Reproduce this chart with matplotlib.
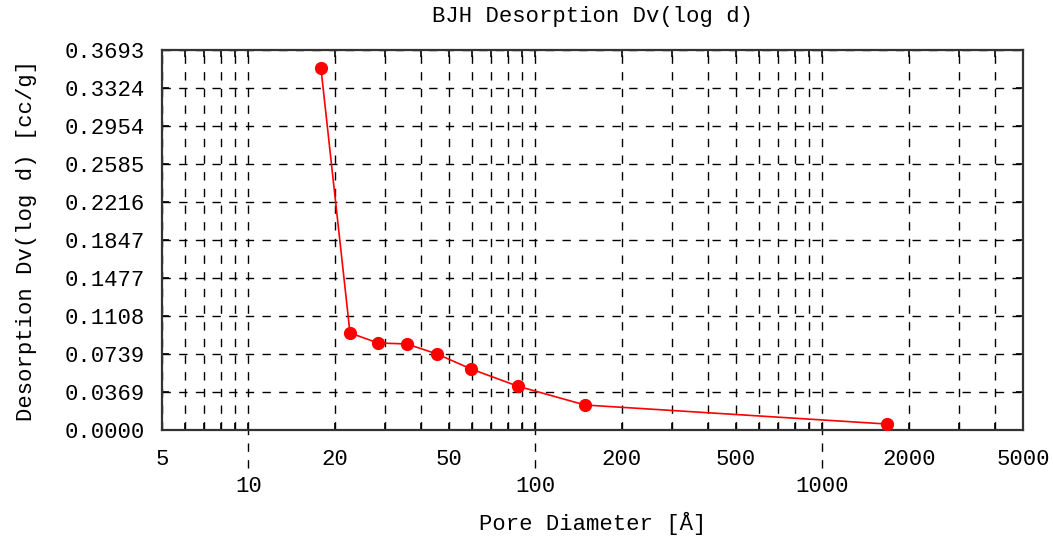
import matplotlib
matplotlib.use('Agg')
import matplotlib.pyplot as plt
import matplotlib.ticker as mticker

# data
pore_diameter = [17.9, 22.6, 28.3, 35.7, 45.4, 59.7, 87.0, 149.0, 1680.0]
dv_logd = [0.3518, 0.0943, 0.0846, 0.0836, 0.0739, 0.0593, 0.0425, 0.0243, 0.0058]

y_max = 0.3693
y_ticklabels = ['0.0000', '0.0369', '0.0739', '0.1108', '0.1477', '0.1847',
                '0.2216', '0.2585', '0.2954', '0.3324', '0.3693']
x_ticks = [5, 10, 20, 50, 100, 200, 500, 1000, 2000, 5000]
x_ticklabels = ['5', '\n10', '20', '50', '\n100', '200', '500', '\n1000', '2000', '5000']
x_decades = [10, 100, 1000]

plt.rcParams['font.family'] = ['Liberation Mono', 'DejaVu Sans Mono']

fig = plt.figure(figsize=(10.53, 5.43), dpi=100)
ax = fig.add_axes([0.1538, 0.2081, 0.8177, 0.6998])

ax.plot(pore_diameter, dv_logd, color='#ff0000', lw=1.2, marker='o', ms=8.5, zorder=5)

ax.set_xscale('log')
ax.set_xlim(5, 5000)
ax.set_ylim(0, y_max)

ax.set_xticks(x_ticks)
ax.set_xticklabels(x_ticklabels, fontsize=16)
for lab in ax.get_xticklabels():
    lab.set_linespacing(1.35)
ax.xaxis.set_minor_locator(mticker.LogLocator(base=10, subs=range(2, 10), numticks=20))
ax.xaxis.set_minor_formatter(mticker.NullFormatter())
ax.set_yticks([y_max * i / 10 for i in range(11)])
ax.set_yticklabels(y_ticklabels, fontsize=16)

ax.tick_params(which='both', direction='in', top=True, right=True, length=5, width=1.2, color='black')
ax.tick_params(axis='x', which='major', pad=14)
ax.tick_params(axis='y', which='major', pad=12)

grid_kw = dict(color='black', lw=1.0, linestyle=(0, (6, 6)))
ax.grid(True, which='major', axis='y', **grid_kw)
ax.grid(True, which='both', axis='x', **grid_kw)

# dashed extensions of the decade lines below the axis
for xd in x_decades:
    ax.axvline(xd, ymin=-0.1, ymax=0, clip_on=False, **grid_kw)

for s in ax.spines.values():
    s.set_linewidth(1.6)
    s.set_color('#333333')

ax.set_title('BJH Desorption Dv(log d)', fontsize=16, pad=20)
ax.set_xlabel('Pore Diameter [Å]', fontsize=16, labelpad=11)
ax.set_ylabel('Desorption Dv(log d) [cc/g]', fontsize=16, labelpad=20)

plt.savefig('out.png', dpi=100)
